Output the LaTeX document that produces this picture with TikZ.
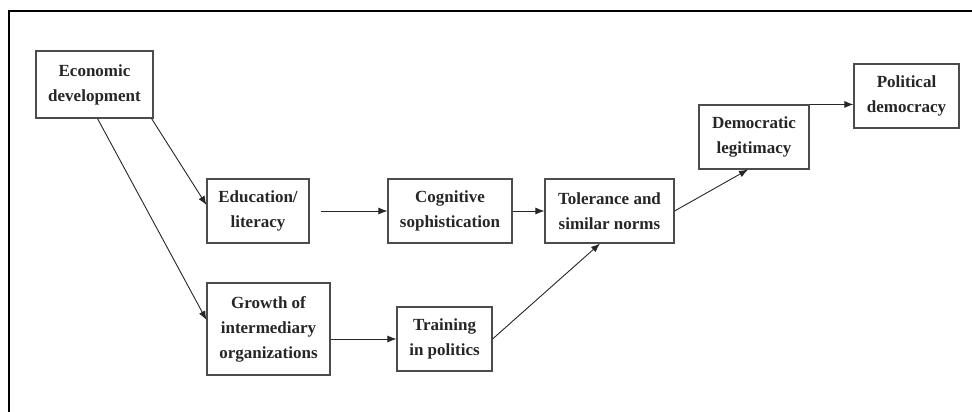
\documentclass[tikz,border=0pt]{standalone}
\usepackage{fontspec}
\setmainfont{Liberation Serif}
\usetikzlibrary{arrows.meta}
\begin{document}
\begin{tikzpicture}[
  x=1pt, y=-1pt,
  box/.style={rectangle, draw=black!70, line width=1.1pt, inner sep=0pt, align=center,
    text=black!85, font=\fontsize{17}{25}\selectfont\bfseries},
  arrow/.style={line width=0.9pt, black!85, -{Latex[length=9pt,width=7pt]}}
]
  \useasboundingbox (0,0) rectangle (972,412);
  \draw[line width=1.2pt] (9,412) -- (9,11) -- (972,11);

  % Boxes
  \node[box, minimum width=117pt, minimum height=67pt] (econ) at (94.5,84.5) {Economic\\development};
  \node[box, minimum width=102pt, minimum height=64pt] (edu) at (258,211) {Education/\\literacy};
  \node[box, minimum width=124pt, minimum height=64pt] (cog) at (450,211) {Cognitive\\sophistication};
  \node[box, minimum width=129pt, minimum height=64pt] (tol) at (609.5,211) {Tolerance and\\similar norms};
  \node[box, minimum width=110pt, minimum height=64pt] (dem) at (754,137) {Democratic\\legitimacy};
  \node[box, minimum width=105pt, minimum height=64pt] (pol) at (906.5,96) {Political\\democracy};
  \node[box, minimum width=123pt, minimum height=92pt] (growth) at (268.5,329) {Growth of\\intermediary\\organizations};
  \node[box, minimum width=95pt, minimum height=64pt] (train) at (444.5,339) {Training\\in politics};

  % Arrows
  \draw[arrow] ([xshift=-2pt]econ.south east) -- ([yshift=6pt]edu.west);
  \draw[arrow] ([xshift=3pt]econ.south) -- ([yshift=9pt]growth.west);
  \draw[arrow] ([xshift=11pt]edu.east) -- (cog.west);
  \draw[arrow] (cog.east) -- (tol.west);
  \draw[arrow] (tol.east) -- ([xshift=-6pt]dem.south);
  \draw[arrow] (dem.north east) -- (dem.north east -| pol.west);
  \draw[arrow] (train.west -| growth.east) -- (train.west);
  \draw[arrow] (train.east) -- ([xshift=-9.5pt]tol.south);
\end{tikzpicture}
\end{document}
